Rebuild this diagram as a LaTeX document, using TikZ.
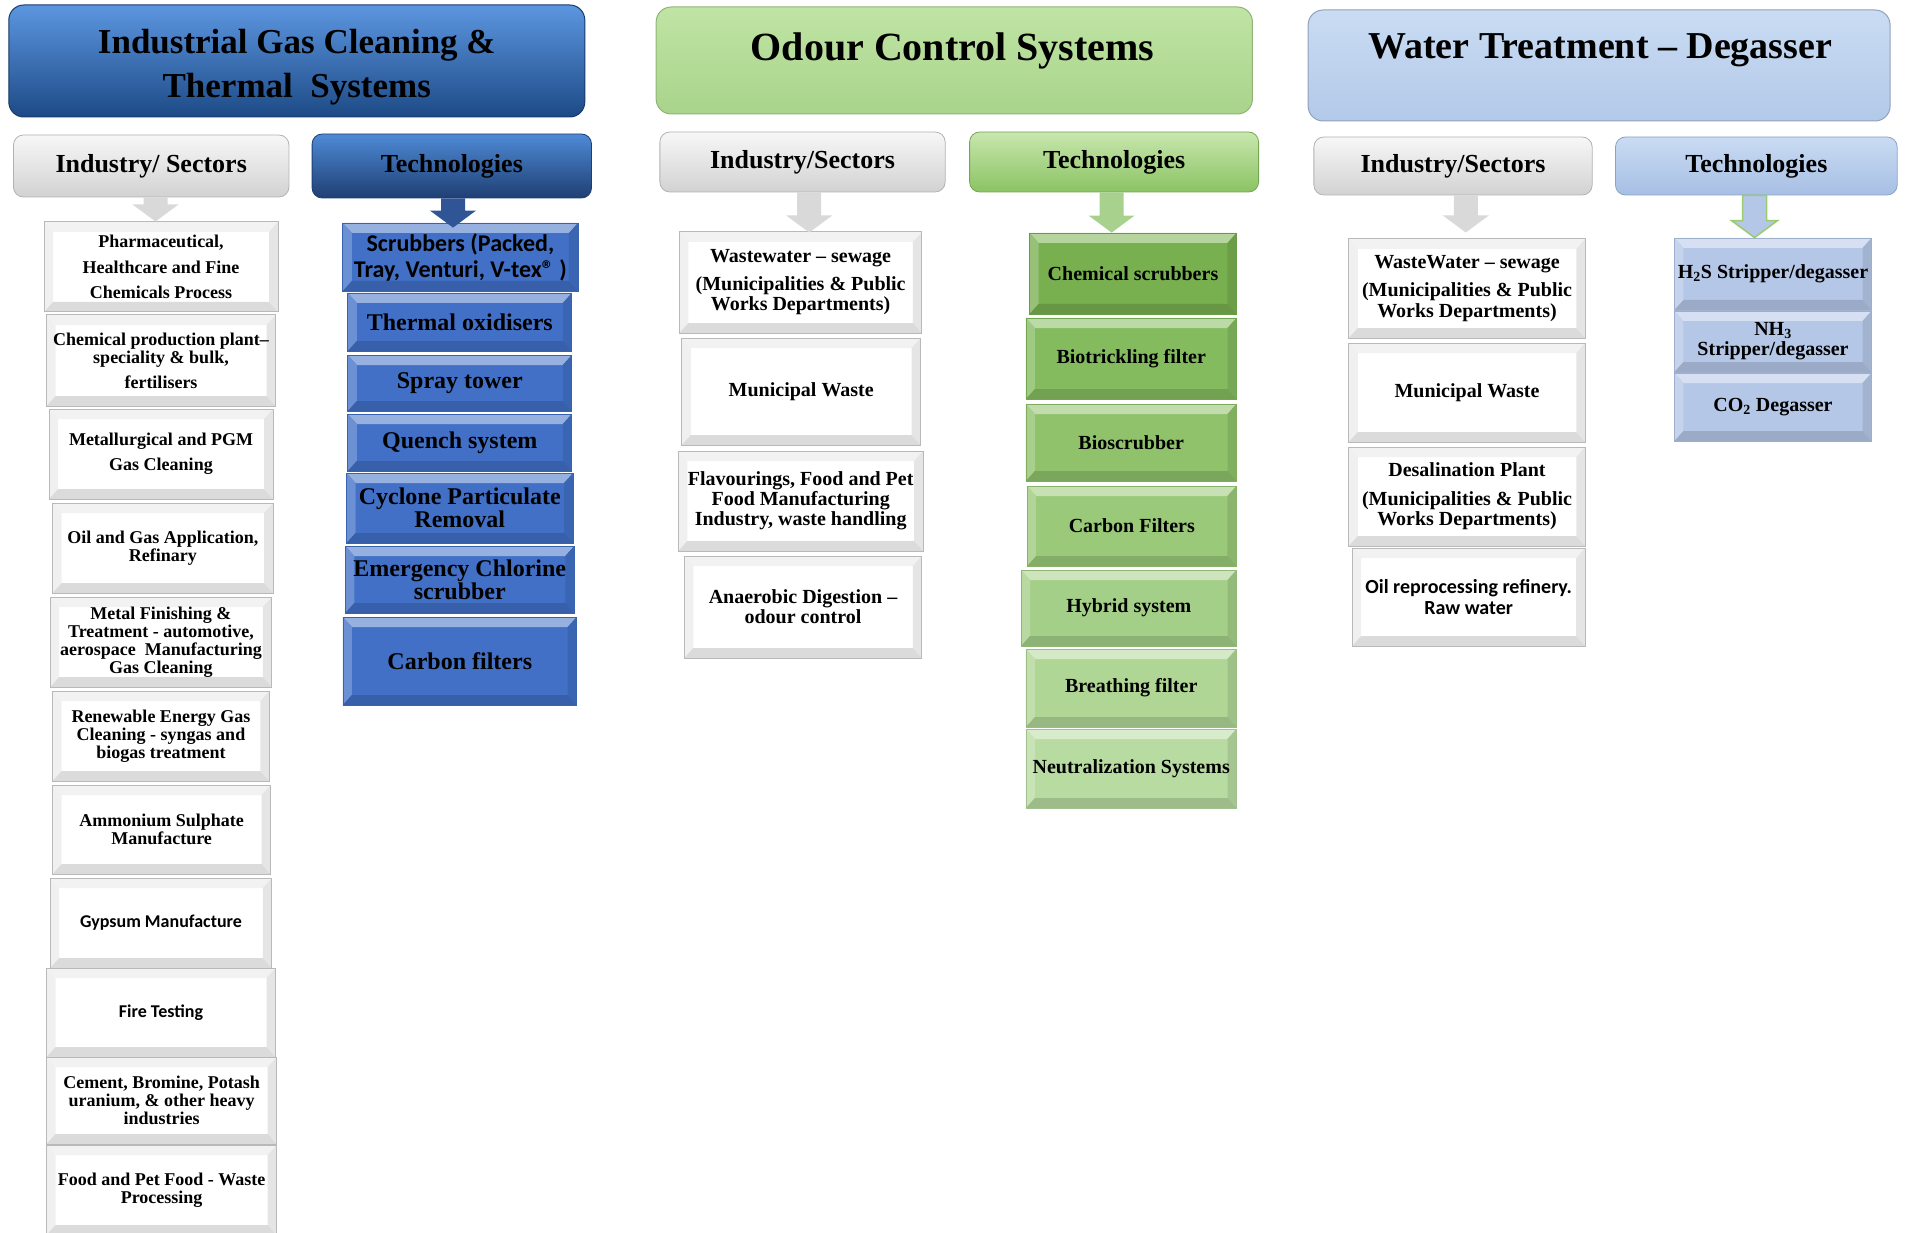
\documentclass[tikz,border=0pt]{standalone}
\usepackage{fontspec}
\setmainfont{Liberation Serif}
\newfontfamily\calfont{Carlito}
\usepackage{xcolor}
\usepackage{tikz}
\usetikzlibrary{calc}
\definecolor{gasTop}{HTML}{5C96E0}
\definecolor{gasBot}{HTML}{1D4A86}
\definecolor{odourTop}{HTML}{BFE4A4}
\definecolor{odourBot}{HTML}{A9D48B}
\definecolor{waterTop}{HTML}{CADCF3}
\definecolor{waterBot}{HTML}{B3C9E9}
\definecolor{sectTop}{HTML}{F7F7F7}
\definecolor{sectBot}{HTML}{D2D2D2}
\definecolor{gastechTop}{HTML}{4F8AD6}
\definecolor{gastechBot}{HTML}{1F3F73}
\definecolor{odtechTop}{HTML}{C8E7AE}
\definecolor{odtechBot}{HTML}{8BC363}
\definecolor{wttechTop}{HTML}{CADCF3}
\definecolor{wttechBot}{HTML}{A6BFE4}
\definecolor{arrowgray}{HTML}{D9D9D9}
\definecolor{arrowblue}{HTML}{2F5597}
\definecolor{arrowgreen}{HTML}{A9D18E}
\definecolor{outgreen}{HTML}{9BCB6F}
\definecolor{techblue}{HTML}{4170C6}
\definecolor{wtblue}{HTML}{B4C7E7}
\definecolor{gA}{HTML}{78B04F}
\definecolor{gB}{HTML}{84BB5E}
\definecolor{gC}{HTML}{8FC26B}
\definecolor{gD}{HTML}{9AC979}
\definecolor{gE}{HTML}{A4CF88}
\definecolor{gF}{HTML}{B0D696}
\definecolor{gG}{HTML}{B8DBA1}
\tikzset{
  sz/.style 2 args={minimum width=#1pt, minimum height=#2pt},
  bevel/.style n args={5}{fill=#1, path picture={
      \fill[#2] (path picture bounding box.north west) -- (path picture bounding box.north east)
        -- ([shift={(-9pt,-10pt)}]path picture bounding box.north east) -- ([shift={(9pt,-10pt)}]path picture bounding box.north west) -- cycle;
      \fill[#3] (path picture bounding box.north west) -- ([shift={(9pt,-10pt)}]path picture bounding box.north west)
        -- ([shift={(9pt,10pt)}]path picture bounding box.south west) -- (path picture bounding box.south west) -- cycle;
      \fill[#4] (path picture bounding box.north east) -- ([shift={(-9pt,-10pt)}]path picture bounding box.north east)
        -- ([shift={(-9pt,10pt)}]path picture bounding box.south east) -- (path picture bounding box.south east) -- cycle;
      \fill[#5] (path picture bounding box.south west) -- ([shift={(9pt,10pt)}]path picture bounding box.south west)
        -- ([shift={(-9pt,10pt)}]path picture bounding box.south east) -- (path picture bounding box.south east) -- cycle;
    }},
  bevelw/.style={bevel={white}{gray!10}{gray!12}{gray!20}{gray!28}, draw=gray!55, line width=1pt},
  bevelc/.style={bevel={#1}{#1!55!white}{#1!78!white}{#1!90!black}{#1!86!black}, draw=#1!88!black, line width=0.8pt},
  hdr/.style={rounded corners=15pt, line width=1pt, align=center, inner sep=0pt},
  sect/.style={rounded corners=10pt, line width=0.8pt, align=center, inner sep=0pt,
    font=\bfseries\fontsize{26}{28}\selectfont},
  title/.style={font=\bfseries\fontsize{#1}{44}\selectfont, align=center, inner sep=0pt},
  gasind/.style={bevelw, align=center, inner sep=0pt, font=\bfseries\fontsize{18}{18}\selectfont},
  gasitem/.style={bevelc=techblue, align=center, inner sep=0pt, font=\bfseries\fontsize{24}{23}\selectfont},
  odind/.style={bevelw, align=center, inner sep=0pt, font=\bfseries\fontsize{20}{20}\selectfont},
  oditem/.style={bevelc=#1, align=center, inner sep=0pt, font=\bfseries\fontsize{20}{20}\selectfont},
  wtind/.style={bevelw, align=center, inner sep=0pt, font=\bfseries\fontsize{20}{20.5}\selectfont},
  wtitem/.style={bevelc=wtblue, align=center, inner sep=0pt, font=\bfseries\fontsize{20}{20}\selectfont},
  every node/.style={text=black}
}
% block arrow from the bottom of #2 down to the top of #3 (#4 = x offset, #5 = tip lift)
\newcommand{\blockarrow}[5][]{%
  \filldraw[#1] let \p1=(#2.south), \p2=(#3.north) in
    ({\x1+(#4pt)-12pt},\y1) -- ({\x1+(#4pt)+12pt},\y1) -- ({\x1+(#4pt)+12pt},{\y2+(#5pt)+17pt})
    -- ({\x1+(#4pt)+23pt},{\y2+(#5pt)+17pt}) -- ({\x1+(#4pt)},{\y2+(#5pt)})
    -- ({\x1+(#4pt)-23pt},{\y2+(#5pt)+17pt}) -- ({\x1+(#4pt)-12pt},{\y2+(#5pt)+17pt}) -- cycle;}

\begin{document}
\begin{tikzpicture}[x=1pt, y=-1pt]
  \useasboundingbox (0,0) rectangle (1906,1233);

  % industrial gas cleaning
  \node[hdr, sz={576}{112}, top color=gasTop, bottom color=gasBot, draw=gasBot!80!black] (gas) at (296.8,61) {};
  \node[title=35] (gastitle) at (296.8,67.5) {Industrial Gas Cleaning \&\\Thermal\ \ Systems};
  \node[sect, sz={275.5}{62}, top color=sectTop, bottom color=sectBot, draw=gray!60] (gassect) at (151.2,166) {Industry/ Sectors};
  \node[sect, sz={279.4}{64}, top color=gastechTop, bottom color=gastechBot, draw=gastechBot] (gastech) at (451.8,166) {Technologies};

  \node[gasind, sz={234}{90}] (pharma) at (161,267) {Pharmaceutical,\\[7.5pt]Healthcare and Fine\\[7.5pt]Chemicals Process};
  \node[gasind, sz={229}{91}] (chemprod) at (161,360.5) {Chemical production plant--\\speciality \& bulk,\\[7pt]fertilisers};
  \node[gasind, sz={224}{90}] (metallurg) at (161,454) {Metallurgical and PGM\\[7pt]Gas Cleaning};
  \node[gasind, sz={220.4}{90}] (oilgas) at (162.9,548) {Oil and Gas Application,\\Refinary};
  \node[gasind, sz={221.6}{90}] (metalfin) at (161,642) {Metal Finishing \&\\Treatment - automotive,\\aerospace\ \ Manufacturing\\Gas Cleaning};
  \node[gasind, sz={216.7}{90}] (renew) at (161,736) {Renewable Energy Gas\\Cleaning - syngas and\\biogas treatment};
  \node[gasind, sz={218}{89}] (ammon) at (161.6,829.5) {Ammonium Sulphate\\Manufacture};
  \node[gasind, sz={221.6}{90}, font=\calfont\bfseries\fontsize{18}{18}\selectfont] (gypsum) at (161,923) {Gypsum Manufacture};
  \node[gasind, sz={229}{89}, font=\calfont\bfseries\fontsize{18}{18}\selectfont] (fire) at (161,1012.5) {Fire Testing};
  \node[gasind, sz={230.2}{87}] (cement) at (161.6,1100.5) {Cement, Bromine, Potash\\uranium, \& other heavy\\industries};
  \node[gasind, sz={230.2}{90}] (petfood) at (161.6,1190) {Food and Pet Food - Waste\\Processing};

  \node[gasitem, sz={235.1}{68}, font=\calfont\bfseries\fontsize{24}{26}\selectfont] (scrub) at (460.4,257)
        {Scrubbers (Packed,\\Tray, Venturi, V-tex® )};
  \node[gasitem, sz={224}{58}] (thermox) at (459.8,322) {Thermal oxidisers};
  \node[gasitem, sz={224}{56}] (spray) at (459.8,383) {Spray tower};
  \node[gasitem, sz={224}{57}] (quench) at (459.8,442.5) {Quench system};
  \node[gasitem, sz={226.5}{70}] (cyclone) at (459.8,508) {Cyclone Particulate\\Removal};
  \node[gasitem, sz={229}{67}] (chlorine) at (459.8,579.5) {Emergency Chlorine\\scrubber};
  \node[gasitem, sz={233.8}{88}] (carbon) at (459.8,661) {Carbon filters};

  \blockarrow[fill=arrowgray, draw=none]{gassect}{pharma}{4.3}{0}
  \blockarrow[fill=arrowblue, draw=none]{gastech}{scrub}{1.2}{-5}

  % odour control
  \node[hdr, sz={596.3}{107}, top color=odourTop, bottom color=odourBot, draw=odourBot!85!black] (odour) at (954.3,60.5) {};
  \node[title=40] (odourtitle) at (952.5,50.5) {Odour Control Systems};
  \node[sect, sz={285.3}{60}, top color=sectTop, bottom color=sectBot, draw=gray!60] (odsect) at (802.5,162) {Industry/Sectors};
  \node[sect, sz={289}{60}, top color=odtechTop, bottom color=odtechBot, draw=odtechBot!85!black] (odtech) at (1114.1,162) {Technologies};

  \node[odind, sz={242.4}{101}] (wastewater) at (800.6,282.5) {Wastewater -- sewage\\[8pt](Municipalities \& Public\\Works Departments)};
  \node[odind, sz={238.8}{107}] (municipal) at (801.2,391.5) {Municipal Waste};
  \node[odind, sz={244.9}{100}] (flavour) at (800.7,501) {Flavourings, Food and Pet\\Food Manufacturing\\Industry, waste handling};
  \node[odind, sz={237.5}{102}] (anaerobic) at (803,607) {Anaerobic Digestion --\\odour control};

  \node[oditem=gA, sz={206.9}{81}] (chemscrub) at (1133,273.5) {Chemical scrubbers};
  \node[oditem=gB, sz={210.6}{81}] (biotrick) at (1131.2,358.5) {Biotrickling filter};
  \node[oditem=gC, sz={210.6}{77}] (bioscrub) at (1131.2,442.5) {Bioscrubber};
  \node[oditem=gD, sz={209.3}{80}] (carbonf) at (1131.8,526) {Carbon Filters};
  \node[oditem=gE, sz={215.5}{76}] (hybrid) at (1128.8,608) {Hybrid system};
  \node[oditem=gF, sz={210.6}{78}] (breathing) at (1131.2,688) {Breathing filter};
  \node[oditem=gG, sz={210.6}{79}] (neutral) at (1131.2,768.5) {Neutralization Systems};

  \blockarrow[fill=arrowgray, draw=none]{odsect}{wastewater}{6.7}{-1}
  \blockarrow[fill=arrowgreen, draw=none]{odtech}{chemscrub}{-2.5}{0}

  % water treatment
  \node[hdr, sz={582}{111}, top color=waterTop, bottom color=waterBot, draw=waterBot!80!black] (water) at (1599.1,65.5) {};
  \node[title=38] (watertitle) at (1600.3,50.5) {Water Treatment -- Degasser};
  \node[sect, sz={278.3}{58}, top color=sectTop, bottom color=sectBot, draw=gray!60] (wtsect) at (1453,166) {Industry/Sectors};
  \node[sect, sz={281.7}{58}, top color=wttechTop, bottom color=wttechBot, draw=wttechBot!85!black] (wttech) at (1756.3,166) {Technologies};

  \node[wtind, sz={236.5}{99}] (wwsewage) at (1467,288.5) {WasteWater -- sewage\\[8pt](Municipalities \& Public\\Works Departments)};
  \node[wtind, sz={236.5}{99}] (wtmunicipal) at (1467,392.5) {Municipal Waste};
  \node[wtind, sz={236.5}{99}] (desal) at (1467,496.5) {Desalination Plant\\[8pt](Municipalities \& Public\\Works Departments)};
  \node[wtind, sz={233}{98}, font=\calfont\bfseries\fontsize{20}{21.5}\selectfont] (oilref) at (1468.7,597) {Oil reprocessing refinery.\\Raw water};

  \node[wtitem, sz={197.1}{72}] (h2s) at (1773,274) {H\textsubscript{2}S Stripper/degasser};
  \node[wtitem, sz={197.1}{61}] (nh3) at (1773,341.5) {NH\textsubscript{3}\\Stripper/degasser};
  \node[wtitem, sz={197.1}{68}] (co2) at (1773,407) {CO\textsubscript{2} Degasser};

  \blockarrow[fill=arrowgray, draw=none]{wtsect}{wwsewage}{12.8}{6}
  \blockarrow[fill=wtblue, draw=outgreen, line width=1.5pt, line join=miter]{wttech}{h2s}{-1.8}{0}
\end{tikzpicture}
\end{document}
